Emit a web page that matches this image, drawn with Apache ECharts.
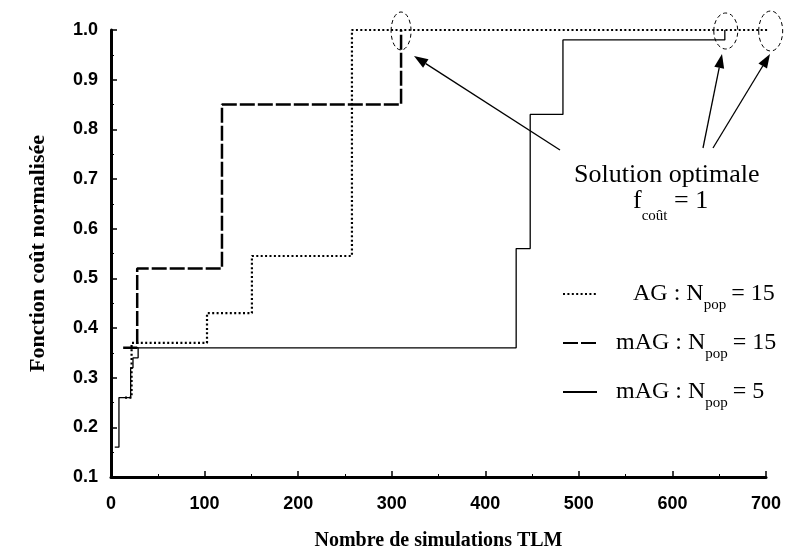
<!DOCTYPE html>
<html>
<head>
<meta charset="utf-8">
<script src="https://cdn.jsdelivr.net/npm/echarts@6/dist/echarts.min.js"></script>
<style>html,body{margin:0;padding:0;background:#fff}#c{width:795px;height:556px}</style>
</head>
<body>
<div id="c"></div>
<script>
// Data (step curves: [simulations, normalised cost])
var seriesNames = ['AG', 'mAG15', 'mAG5'];
var agN15 = [[15,0.26],[22,0.37],[102.6,0.43],[150.6,0.545],[257.5,1.0],[710,1.0]];
var magN15 = [[13,0.36],[28,0.52],[118.6,0.85],[310,1.0]];
var magN5 = [[4,0.16],[8.5,0.16],[8.5,0.26],[21,0.32],[23.5,0.34],[29,0.36],[433,0.56],[448,0.83],[483,0.98],[656,1.0]];
var xTicks = [0,100,200,300,400,500,600,700];
var yTicks = [0.1,0.2,0.3,0.4,0.5,0.6,0.7,0.8,0.9,1.0];
var optimumPoints = [[310,1.0],[657,1.0],[705,1.0]];

var chart = echarts.init(document.getElementById('c'), null, {renderer:'canvas'});
var sans = 'Liberation Sans, Arial, sans-serif';
var serif = 'Liberation Serif, Times New Roman, serif';

function legendFmt(name){
  if (name === 'AG') return '{p|AG : N}{s|pop}{b|= 15}';
  if (name === 'mAG15') return '{a|mAG : N}{s|pop}{b|= 15}';
  return '{a|mAG : N}{s|pop}{b|= 5}';
}

var option = {
  backgroundColor: '#fff',
  animation: false,
  color: ['#000', '#000', '#000'],
  grid: {left: 111, right: 29, top: 30, bottom: 78, containLabel: false},
  xAxis: {
    type: 'value', min: xTicks[0], max: xTicks[xTicks.length-1], interval: 100,
    name: 'Nombre de simulations TLM', nameLocation: 'middle', nameGap: 54,
    nameTextStyle: {fontFamily: serif, fontWeight: 'bold', fontSize: 20, color: '#000'},
    axisLine: {lineStyle: {color: '#000', width: 3}},
    axisTick: {inside: true, length: 6, lineStyle: {color: '#000', width: 1.5}},
    minorTick: {show: true, splitNumber: 2, length: 3, lineStyle: {color: '#000', width: 1}},
    axisLabel: {fontFamily: sans, fontWeight: 'bold', fontSize: 18, color: '#000', margin: 18},
    splitLine: {show: false}
  },
  yAxis: {
    type: 'value', min: 0.1, max: 1.0, interval: 0.1,
    name: 'Fonction coût normalisée', nameLocation: 'middle', nameGap: 62,
    nameTextStyle: {fontFamily: serif, fontWeight: 'bold', fontSize: 22, color: '#000'},
    axisLine: {show: true, lineStyle: {color: '#000', width: 3}},
    axisTick: {show: true, inside: true, length: 6, lineStyle: {color: '#000', width: 1.5}},
    minorTick: {show: true, splitNumber: 2, length: 3, lineStyle: {color: '#000', width: 1}},
    axisLabel: {fontFamily: sans, fontWeight: 'bold', fontSize: 18, color: '#000', margin: 13,
      formatter: function(v){ return v.toFixed(1); }},
    splitLine: {show: false}
  },
  legend: {
    orient: 'vertical', left: 557, top: 277, itemWidth: 34, itemHeight: 14, itemGap: 18,
    data: seriesNames,
    formatter: legendFmt,
    itemStyle: {opacity: 0},
    textStyle: {
      color: '#000', fontFamily: serif, fontSize: 24,
      rich: {
        a: {fontFamily: serif, fontSize: 24, color: '#000', lineHeight: 36, padding: [0, 0, 0, 14]},
        p: {fontFamily: serif, fontSize: 24, color: '#000', lineHeight: 36, padding: [0, 0, 0, 31]},
        s: {fontFamily: serif, fontSize: 15, color: '#000', verticalAlign: 'bottom', lineHeight: 38, padding: [0, 5, 0, 0]},
        b: {fontFamily: serif, fontSize: 24, color: '#000', lineHeight: 36}
      }
    },
    selectedMode: false
  },
  series: [
    {name: 'AG', type: 'line', data: agN15, step: 'end', symbol: 'none', clip: false,
     itemStyle: {color: '#000'},
     lineStyle: {color: '#000', width: 2.2, type: [2, 2.4]}},
    {name: 'mAG15', type: 'line', data: magN15, step: 'end', symbol: 'none',
     itemStyle: {color: '#000'},
     lineStyle: {color: '#000', width: 2.5, type: [15, 3]}},
    {name: 'mAG5', type: 'line', data: magN5, step: 'end', symbol: 'none',
     itemStyle: {color: '#000'},
     lineStyle: {color: '#000', width: 1.3, type: 'solid'}}
  ]
};
chart.setOption(option);

function arrow(x1,y1,x2,y2){
  var a = Math.atan2(y2-y1, x2-x1), L = 14, W = 5;
  var bx = x2 - L*Math.cos(a), by = y2 - L*Math.sin(a);
  var px = -Math.sin(a)*W, py = Math.cos(a)*W;
  return [
    {type:'line', shape:{x1:x1,y1:y1,x2:bx,y2:by}, style:{stroke:'#000', lineWidth:1.3}},
    {type:'polygon', shape:{points:[[x2,y2],[bx+px,by+py],[bx-px,by-py]]}, style:{fill:'#000'}}
  ];
}
var g = [];
var radii = [[10,19],[12,18],[12,20]];
optimumPoints.forEach(function(p,i){
  var c = chart.convertToPixel({gridIndex:0}, p);
  g.push({type:'ellipse', shape:{cx:c[0], cy:c[1]+1, rx:radii[i][0], ry:radii[i][1]},
          style:{fill:'none', stroke:'#000', lineWidth:1, lineDash:[4,3]}});
});
g = g.concat(arrow(560,150,414,56), arrow(703,148,722,54), arrow(713,148,770,54));
g.push({type:'text', left:574, top:162, style:{text:'Solution optimale', font:'26px ' + serif, fill:'#000'}});
g.push({type:'text', left:633, top:188, style:{
  text:'{f|f}{s|coût}{e| = 1}', fill:'#000',
  rich:{
    f:{fontFamily:serif, fontSize:26, lineHeight:42, fill:'#000'},
    s:{fontFamily:serif, fontSize:15, lineHeight:46, verticalAlign:'bottom', fill:'#000'},
    e:{fontFamily:serif, fontSize:26, lineHeight:42, fill:'#000'}
  }}});
chart.setOption({graphic: g});
</script>
</body>
</html>
